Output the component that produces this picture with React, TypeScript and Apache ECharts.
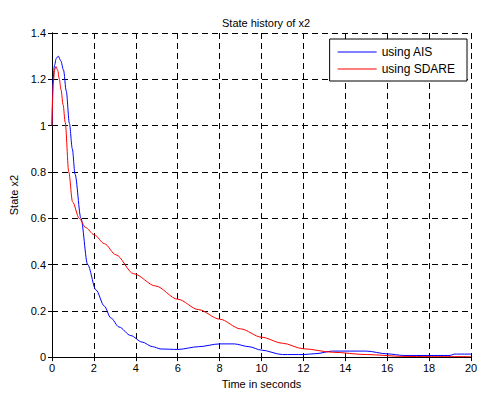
import React, { useEffect, useRef } from "react";
import * as echarts from "echarts";

const timeAIS = [0, 0.05, 0.12, 0.2, 0.3, 0.42, 0.55, 0.68, 0.83, 0.97, 1.1, 1.38, 1.7, 2.1, 2.5, 2.8, 3.2, 3.76, 4.3, 4.8, 5.2, 6.0, 7.0, 8.0, 8.7, 9.4, 10.0, 11.0, 12.0, 12.6, 13.4, 15.0, 16.0, 16.8, 19.0, 19.2, 20];
const valuesAIS = [1.0, 1.2, 1.26, 1.29, 1.30, 1.28, 1.24, 1.15, 1.01, 0.9, 0.79, 0.60, 0.40, 0.29, 0.22, 0.17, 0.13, 0.093, 0.065, 0.045, 0.035, 0.033, 0.045, 0.057, 0.057, 0.045, 0.03, 0.011, 0.011, 0.015, 0.026, 0.026, 0.014, 0.007, 0.007, 0.013, 0.013];

const timeSDARE = [0, 0.06, 0.12, 0.19, 0.27, 0.35, 0.43, 0.53, 0.63, 0.8, 0.98, 1.3, 1.6, 2.02, 2.5, 3.05, 3.9, 4.95, 6.0, 7.0, 8.0, 9.0, 10.0, 11.0, 12.0, 13.4, 15.0, 16.8, 18, 20];
const valuesSDARE = [1.0, 1.18, 1.24, 1.255, 1.24, 1.2, 1.156, 1.09, 1.014, 0.80, 0.671, 0.6, 0.56, 0.528, 0.49, 0.442, 0.36, 0.307, 0.25, 0.205, 0.164, 0.122, 0.086, 0.06, 0.036, 0.021, 0.011, 0.003, 0.002, 0.002];

const seriesNames = ["using AIS", "using SDARE"];
const titleText = "State history of x2";
const xName = "Time in seconds";
const yName = "State x2";

const FONT = "'Liberation Sans', Arial, Helvetica, sans-serif";

export default function App() {
  const ref = useRef<HTMLDivElement>(null);
  useEffect(() => {
    const chart = echarts.init(ref.current!, undefined, { renderer: "svg" });
    const gridLine = { show: true, lineStyle: { color: "#000", width: 1, type: [6, 4] as any } };
    const tickInside = { show: true, inside: true, length: 4, lineStyle: { color: "#000" } };
    const axisLine = { show: true, lineStyle: { color: "#000", width: 1 } };
    const label = { color: "#000", fontSize: 11, fontFamily: FONT };
    chart.setOption({
      animation: false,
      backgroundColor: "#fff",
      textStyle: { fontFamily: FONT },
      title: {
        text: titleText,
        left: 261,
        textAlign: "center",
        top: 12,
        textStyle: { fontSize: 11, fontWeight: "normal", color: "#000", fontFamily: FONT },
      },
      grid: { left: 51, right: 12, top: 33, bottom: 34, containLabel: false },
      legend: {
        data: seriesNames,
        orient: "vertical",
        right: 16,
        top: 39,
        itemWidth: 39,
        itemHeight: 1,
        itemGap: 5,
        padding: [7, 12, 6, 8],
        backgroundColor: "#fff",
        borderColor: "#000",
        borderWidth: 1,
        borderRadius: 0,
        textStyle: { fontSize: 12, color: "#000", fontFamily: FONT },
        icon: "rect",
      },
      xAxis: [
        {
          type: "value",
          min: 0,
          max: 20,
          interval: 2,
          name: xName,
          nameLocation: "middle",
          nameGap: 19,
          nameTextStyle: { ...label },
          axisLine,
          axisTick: tickInside,
          axisLabel: { ...label, margin: 5 },
          splitLine: gridLine,
        },
        {
          type: "value",
          position: "top",
          min: 0,
          max: 20,
          interval: 2,
          axisLine,
          axisTick: tickInside,
          axisLabel: { show: false },
          splitLine: { show: false },
        },
      ],
      yAxis: [
        {
          type: "value",
          min: 0,
          max: 1.4,
          interval: 0.2,
          name: yName,
          nameLocation: "middle",
          nameGap: 33,
          nameTextStyle: { ...label },
          axisLine,
          axisTick: tickInside,
          axisLabel: { ...label, margin: 6, formatter: (v: number) => String(Math.round(v * 10) / 10) },
          splitLine: gridLine,
        },
        {
          type: "value",
          position: "right",
          min: 0,
          max: 1.4,
          interval: 0.2,
          axisLine,
          axisTick: tickInside,
          axisLabel: { show: false },
          splitLine: { show: false },
        },
      ],
      series: [
        {
          name: seriesNames[0],
          type: "line",
          data: timeAIS.map((t, i) => [t, valuesAIS[i]]),
          showSymbol: false,
          symbol: "none",
          smooth: 0.3,
          smoothMonotone: "x",
          lineStyle: { color: "#0000ff", width: 1 },
          itemStyle: { color: "#0000ff" },
        },
        {
          name: seriesNames[1],
          type: "line",
          data: timeSDARE.map((t, i) => [t, valuesSDARE[i]]),
          showSymbol: false,
          symbol: "none",
          smooth: 0.3,
          smoothMonotone: "x",
          lineStyle: { color: "#ff0000", width: 1 },
          itemStyle: { color: "#ff0000" },
        },
      ],
    });
    return () => chart.dispose();
  }, []);
  return <div ref={ref} style={{ width: 483, height: 394, position: "absolute", left: 0, top: 0 }} />;
}
